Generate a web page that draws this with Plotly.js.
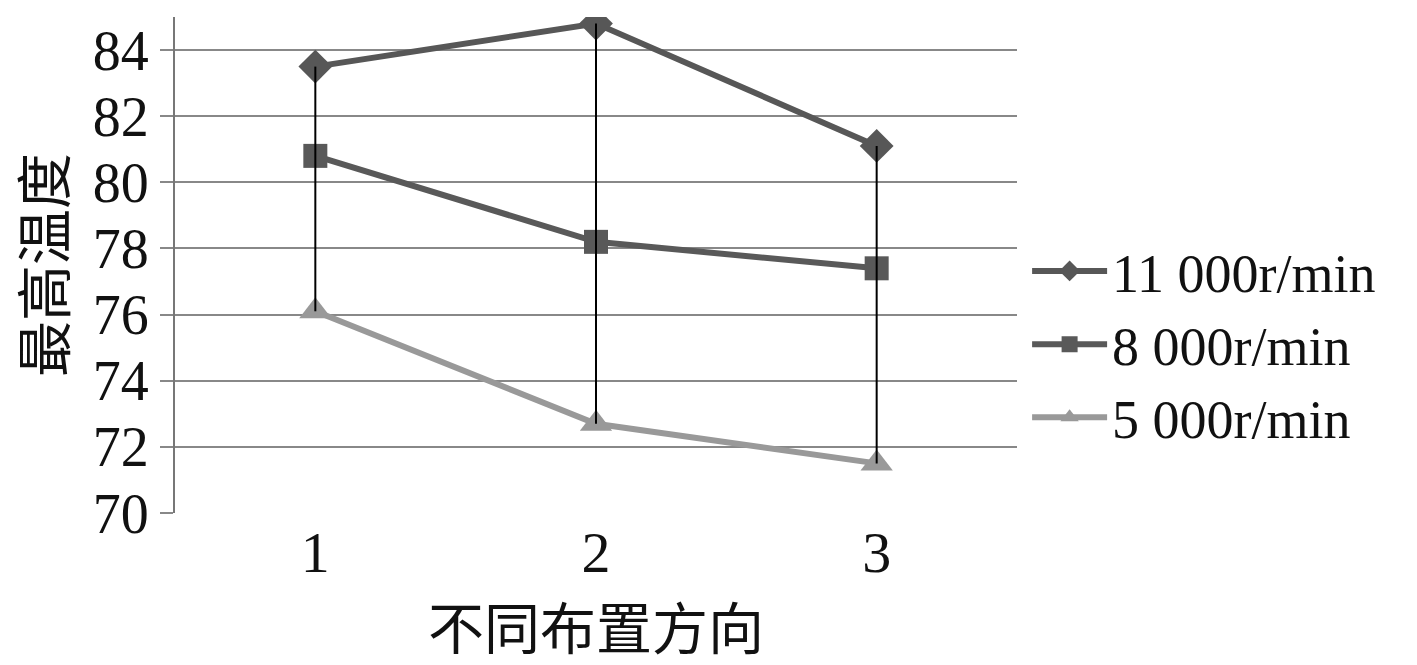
<!DOCTYPE html>
<html>
<head>
<meta charset="utf-8">
<script src="https://cdn.plot.ly/plotly-3.0.1.min.js"></script>
<style>
  body { margin: 0; background: #fff; }
  #plot { width: 1417px; height: 665px; }
</style>
</head>
<body>
<div id="plot"></div>
<script>
// Categories (x positions) and series values
let directions = [1, 2, 3];
let speed11000 = [83.5, 84.8, 81.1];
let speed8000 = [80.8, 78.2, 77.4];
let speed5000 = [76.1, 72.7, 71.5];
let seriesNames = ["11 000r/min", "8 000r/min", "5 000r/min"];
let yTicks = [70, 72, 74, 76, 78, 80, 82, 84];

// High-low drop lines from top series down to bottom series
let dropX = [];
let dropY = [];
for (let i = 0; i < directions.length; i++) {
  dropX.push(directions[i], directions[i], null);
  dropY.push(speed11000[i], speed5000[i], null);
}

let trace1 = {
  x: directions,
  y: speed11000,
  name: seriesNames[0],
  type: "scatter",
  mode: "lines+markers",
  line: { color: "#575757", width: 6 },
  marker: { symbol: "diamond", size: 26, color: "#575757" }
};

let trace2 = {
  x: directions,
  y: speed8000,
  name: seriesNames[1],
  type: "scatter",
  mode: "lines+markers",
  line: { color: "#595959", width: 6 },
  marker: { symbol: "square", size: 24, color: "#595959" }
};

let trace3 = {
  x: directions,
  y: speed5000,
  name: seriesNames[2],
  type: "scatter",
  mode: "lines+markers",
  line: { color: "#999999", width: 6 },
  marker: { symbol: "triangle-up", size: 28, color: "#999999" }
};

let trace4 = {
  x: dropX,
  y: dropY,
  type: "scatter",
  mode: "lines",
  line: { color: "#000000", width: 2 },
  showlegend: false,
  hoverinfo: "skip"
};

let data = [trace1, trace2, trace3, trace4];

let layout = {
  width: 1417,
  height: 665,
  paper_bgcolor: "#ffffff",
  plot_bgcolor: "#ffffff",
  margin: { l: 175, r: 400, t: 17, b: 152 },
  font: { family: "Liberation Serif, serif", color: "#111111" },
  showlegend: true,
  legend: {
    x: 1.012,
    xanchor: "left",
    y: 0.34,
    yanchor: "middle",
    font: { family: "Liberation Serif, serif", size: 54, color: "#111111" },
    itemwidth: 75,
    tracegroupgap: 0
  },
  xaxis: {
    range: [0.5, 3.5],
    tickvals: directions,
    ticktext: ["1", "2", "3"],
    showgrid: false,
    zeroline: false,
    showline: false,
    ticks: "",
    ticklabelstandoff: 0,
    tickfont: { family: "Liberation Serif, serif", size: 58, color: "#111111" },
    title: {
      text: "不同布置方向",
      font: { family: "Noto Sans CJK SC, serif", size: 56, color: "#111111" },
      standoff: 22
    }
  },
  yaxis: {
    range: [70, 85],
    tickvals: yTicks,
    showgrid: true,
    gridcolor: "#888888",
    gridwidth: 2,
    zeroline: false,
    showline: true,
    linecolor: "#777777",
    linewidth: 2,
    ticks: "outside",
    ticklen: 13,
    tickwidth: 2,
    tickcolor: "#888888",
    tickfont: { family: "Liberation Serif, serif", size: 56, color: "#111111" },
    title: {
      text: "最高温度",
      font: { family: "Noto Sans CJK SC, serif", size: 56, color: "#111111" },
      standoff: 22
    }
  }
};

Plotly.newPlot("plot", data, layout, { displayModeBar: false, staticPlot: true });
</script>
</body>
</html>
